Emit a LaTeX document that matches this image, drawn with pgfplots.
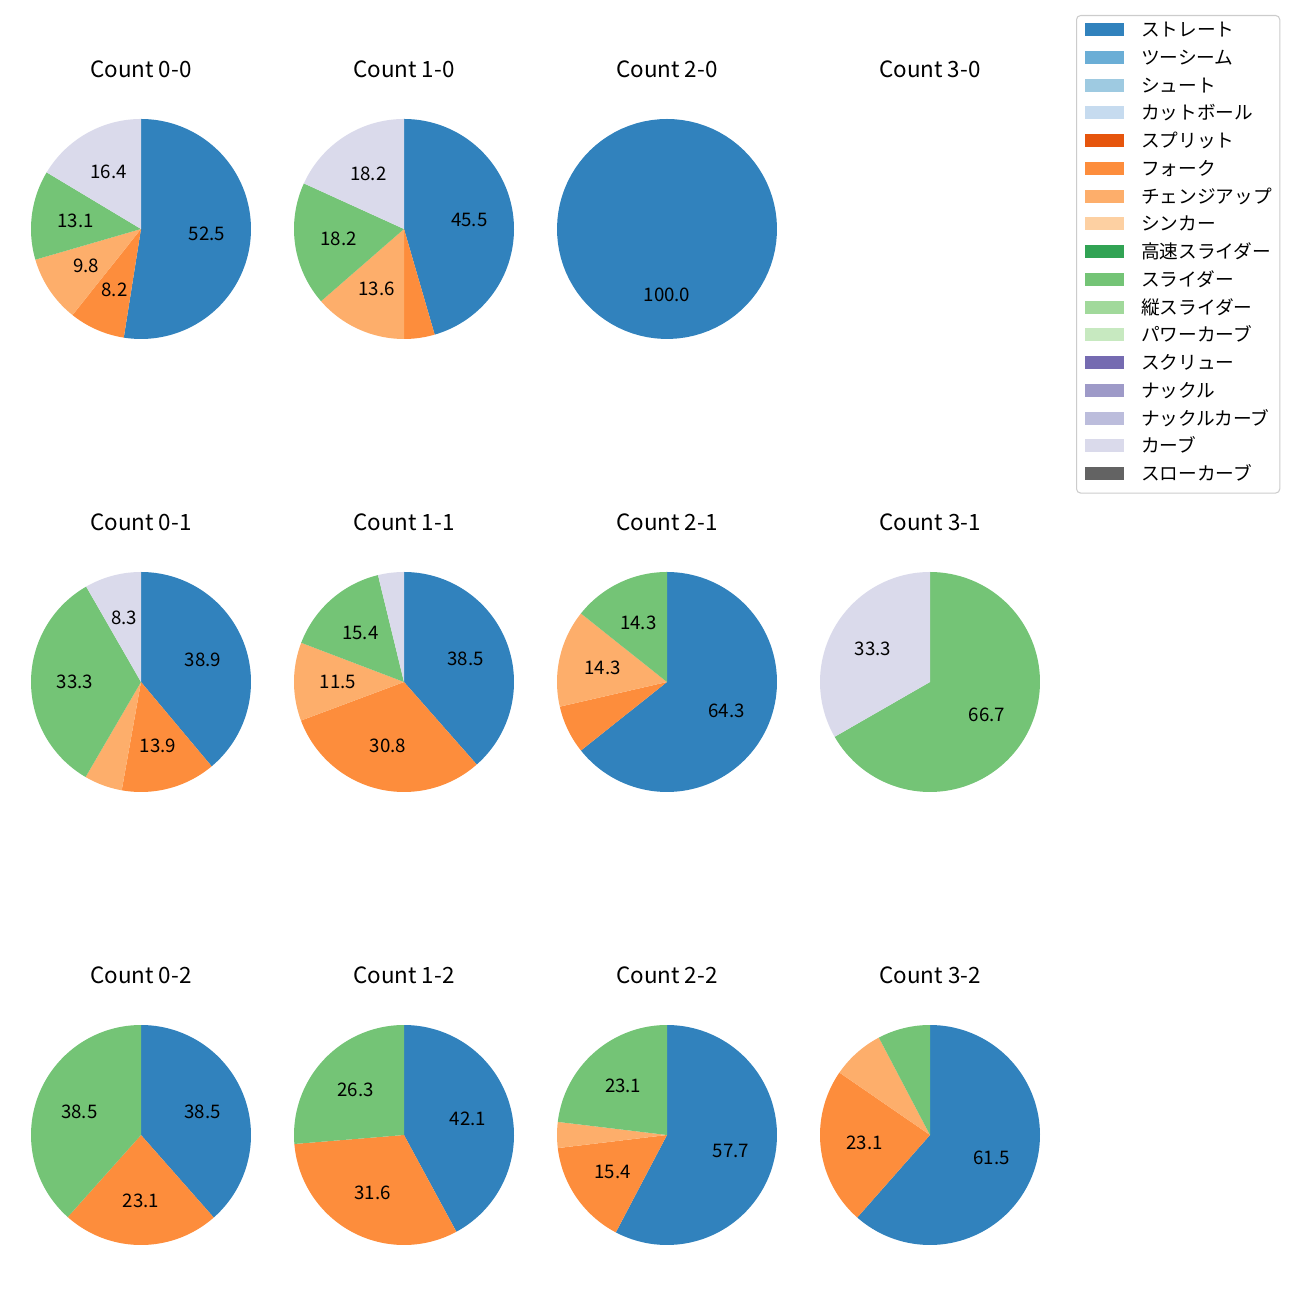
\documentclass[border=0pt]{standalone}
\usepackage{pgfplots}
\pgfplotsset{compat=1.18}
\usepackage{fontspec}
\setmainfont{Noto Sans CJK JP}
\definecolor{c1}{HTML}{3182BD}
\definecolor{c2}{HTML}{6BAED6}
\definecolor{c3}{HTML}{9ECAE1}
\definecolor{c4}{HTML}{C6DBEF}
\definecolor{c5}{HTML}{E6550D}
\definecolor{c6}{HTML}{FD8D3C}
\definecolor{c7}{HTML}{FDAE6B}
\definecolor{c8}{HTML}{FDD0A2}
\definecolor{c9}{HTML}{31A354}
\definecolor{c10}{HTML}{74C476}
\definecolor{c11}{HTML}{A1D99B}
\definecolor{c12}{HTML}{C7E9C0}
\definecolor{c13}{HTML}{756BB1}
\definecolor{c14}{HTML}{9E9AC8}
\definecolor{c15}{HTML}{BCBDDC}
\definecolor{c16}{HTML}{DADAEB}
\definecolor{c17}{HTML}{636363}
\definecolor{legframe}{HTML}{CCCCCC}
\newcommand\titlefont{\fontsize{16.2}{19}\selectfont}
\newcommand\labelfont{\fontsize{13.5}{16}\selectfont}
\pgfplotsset{pie/.style={scale only axis, width=2.2in, height=2.2in,
  xmin=-1, xmax=1, ymin=-1, ymax=1, hide axis, clip=false, anchor=center}}
\newcommand\startpie[1]{\gdef\cum{0}\node[font=\titlefont] at (axis cs:0,1.4545) {#1};}
\newcommand\pieslice[3]{%
  \pgfmathsetmacro\wA{90-3.6*\cum}%
  \pgfmathsetmacro\newcum{\cum+#1}%
  \pgfmathsetmacro\wB{90-3.6*\newcum}%
  \pgfmathsetmacro\wM{(\wA+\wB)/2}%
  \pgfmathsetmacro\lx{0.6*cos(\wM)}%
  \pgfmathsetmacro\ly{0.6*sin(\wM)}%
  \edef\tmp{\noexpand\addplot[fill=#2, draw=none, domain=\wB:\wA, samples=90] ({cos(x)},{sin(x)}) -- (0,0) -- cycle;}%
  \tmp
  \if\relax\detokenize{#3}\relax\else
    \edef\tmp{\noexpand\node[font=\noexpand\labelfont] at (axis cs:\lx,\ly) {#3};}%
    \tmp
  \fi
  \xdef\cum{\newcum}%
}
\begin{document}
\begin{tikzpicture}
\useasboundingbox (0in,0in) rectangle (13in,13in);
% Row 1 (y = 229 px from top)
\begin{axis}[pie, at={(1.41in,10.71in)}]
\startpie{Count 0-0}
\pieslice{52.5}{c1}{52.5}
\pieslice{8.2}{c6}{8.2}
\pieslice{9.8}{c7}{9.8}
\pieslice{13.1}{c10}{13.1}
\pieslice{16.4}{c16}{16.4}
\end{axis}
\begin{axis}[pie, at={(4.04in,10.71in)}]
\startpie{Count 1-0}
\pieslice{45.5}{c1}{45.5}
\pieslice{4.5}{c6}{}
\pieslice{13.6}{c7}{13.6}
\pieslice{18.2}{c10}{18.2}
\pieslice{18.2}{c16}{18.2}
\end{axis}
\begin{axis}[pie, at={(6.67in,10.71in)}]
\startpie{Count 2-0}
\pieslice{100}{c1}{100.0}
\end{axis}
\begin{axis}[pie, at={(9.30in,10.71in)}]
\startpie{Count 3-0}
\end{axis}
% Row 2 (y = 682)
\begin{axis}[pie, at={(1.41in,6.18in)}]
\startpie{Count 0-1}
\pieslice{38.9}{c1}{38.9}
\pieslice{13.9}{c6}{13.9}
\pieslice{5.6}{c7}{}
\pieslice{33.3}{c10}{33.3}
\pieslice{8.3}{c16}{8.3}
\end{axis}
\begin{axis}[pie, at={(4.04in,6.18in)}]
\startpie{Count 1-1}
\pieslice{38.5}{c1}{38.5}
\pieslice{30.8}{c6}{30.8}
\pieslice{11.5}{c7}{11.5}
\pieslice{15.4}{c10}{15.4}
\pieslice{3.8}{c16}{}
\end{axis}
\begin{axis}[pie, at={(6.67in,6.18in)}]
\startpie{Count 2-1}
\pieslice{64.3}{c1}{64.3}
\pieslice{7.1}{c6}{}
\pieslice{14.3}{c7}{14.3}
\pieslice{14.3}{c10}{14.3}
\end{axis}
\begin{axis}[pie, at={(9.30in,6.18in)}]
\startpie{Count 3-1}
\pieslice{66.7}{c10}{66.7}
\pieslice{33.3}{c16}{33.3}
\end{axis}
% Row 3 (y = 1135)
\begin{axis}[pie, at={(1.41in,1.65in)}]
\startpie{Count 0-2}
\pieslice{38.5}{c1}{38.5}
\pieslice{23.1}{c6}{23.1}
\pieslice{38.4}{c10}{38.5}
\end{axis}
\begin{axis}[pie, at={(4.04in,1.65in)}]
\startpie{Count 1-2}
\pieslice{42.1}{c1}{42.1}
\pieslice{31.6}{c6}{31.6}
\pieslice{26.3}{c10}{26.3}
\end{axis}
\begin{axis}[pie, at={(6.67in,1.65in)}]
\startpie{Count 2-2}
\pieslice{57.7}{c1}{57.7}
\pieslice{15.4}{c6}{15.4}
\pieslice{3.8}{c7}{}
\pieslice{23.1}{c10}{23.1}
\end{axis}
\begin{axis}[pie, at={(9.30in,1.65in)}]
\startpie{Count 3-2}
\pieslice{61.5}{c1}{61.5}
\pieslice{23.1}{c6}{23.1}
\pieslice{7.7}{c7}{}
\pieslice{7.7}{c10}{}
\end{axis}
% Legend
\begin{axis}[at={(0in,0in)}, anchor=south west, scale only axis,
  width=13in, height=13in, hide axis, xmin=0, xmax=1, ymin=0, ymax=1,
  legend cell align=left,
  legend image code/.code={\fill[#1, draw=none, sharp corners] (0in,-0.065in) rectangle (0.39in,0.065in); \path (0in,-0.14in);},
  legend style={at={(1076/1300,1-15/1300)}, anchor=north west,
    draw=legframe, line width=0.75pt, rounded corners=3pt, fill=white,
    font=\labelfont, inner xsep=0.08in, inner ysep=0.05in,
    row sep=0.0424in, column sep=0.17in,
    nodes={inner sep=0pt, text height=11.6pt, text depth=1.4pt}}]
\addplot[draw=none, forget plot] coordinates {(0,0)};
\addlegendimage{fill=c1}\addlegendentry{ストレート}
\addlegendimage{fill=c2}\addlegendentry{ツーシーム}
\addlegendimage{fill=c3}\addlegendentry{シュート}
\addlegendimage{fill=c4}\addlegendentry{カットボール}
\addlegendimage{fill=c5}\addlegendentry{スプリット}
\addlegendimage{fill=c6}\addlegendentry{フォーク}
\addlegendimage{fill=c7}\addlegendentry{チェンジアップ}
\addlegendimage{fill=c8}\addlegendentry{シンカー}
\addlegendimage{fill=c9}\addlegendentry{高速スライダー}
\addlegendimage{fill=c10}\addlegendentry{スライダー}
\addlegendimage{fill=c11}\addlegendentry{縦スライダー}
\addlegendimage{fill=c12}\addlegendentry{パワーカーブ}
\addlegendimage{fill=c13}\addlegendentry{スクリュー}
\addlegendimage{fill=c14}\addlegendentry{ナックル}
\addlegendimage{fill=c15}\addlegendentry{ナックルカーブ}
\addlegendimage{fill=c16}\addlegendentry{カーブ}
\addlegendimage{fill=c17}\addlegendentry{スローカーブ}
\end{axis}
\end{tikzpicture}
\end{document}
